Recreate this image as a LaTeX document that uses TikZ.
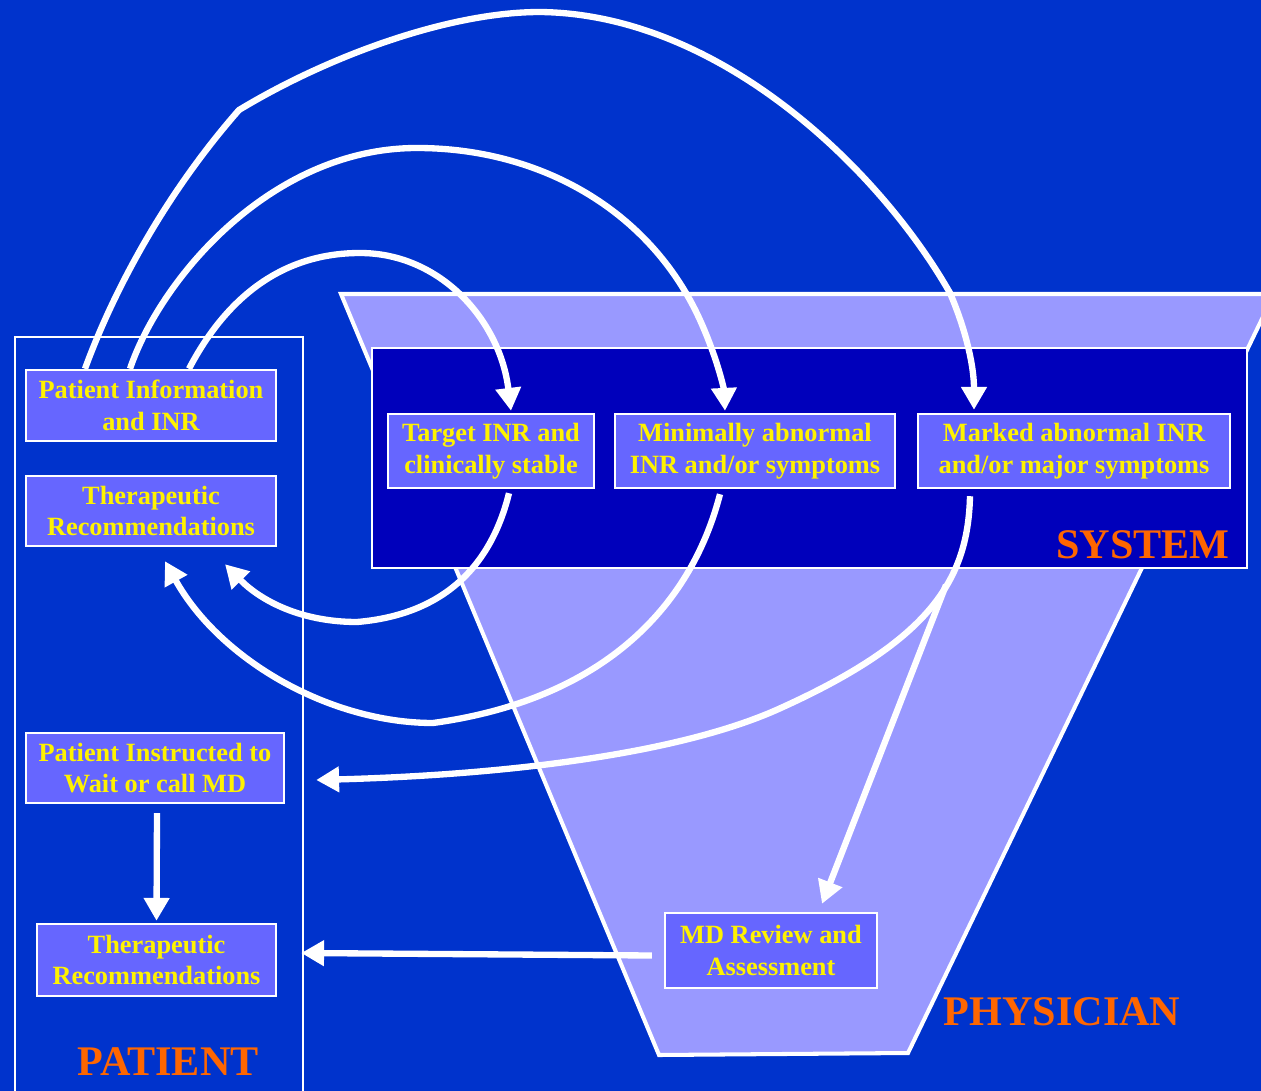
\documentclass[tikz,border=0pt]{standalone}
\usepackage{fontspec}
\setmainfont{Liberation Serif}
\usetikzlibrary{arrows.meta}
\definecolor{slideBlue}{RGB}{0,51,204}
\definecolor{funnelLilac}{RGB}{153,153,255}
\definecolor{systemBlue}{RGB}{0,0,187}
\definecolor{boxLilac}{RGB}{102,102,255}
\definecolor{roleOrange}{RGB}{255,102,0}
\tikzset{flowtip/.tip={Triangle[length=13pt,width=14pt]}}

\begin{document}
\begin{tikzpicture}[>=flowtip, x=0.02cm, y=-0.02cm,
		stepbox/.style={draw=white, line width=1.4pt, fill=boxLilac, text=yellow,
			inner sep=0pt, align=center, font=\fontsize{15}{18}\selectfont\bfseries},
		flow/.style={->, white, line width=3.6pt},
		role/.style={text=roleOrange, inner sep=0pt, font=\fontsize{24}{28}\selectfont\bfseries}]
				\useasboundingbox (0,0) rectangle (1261,1091);
				\fill[slideBlue] (0,0) rectangle (1261,1091);

				\begin{scope}
					\clip (0,0) rectangle (1261,1091);
					\filldraw[fill=funnelLilac, draw=white, line width=2.3pt]
						(341,294) -- (1274,294) -- (908,1053) -- (659,1055) -- cycle;
					\draw[fill=systemBlue, draw=white, line width=1.5pt] (372,348) rectangle (1247,568);
					\draw[white, line width=1.2pt] (15,337) rectangle (303,1100);
				\end{scope}

				\node[stepbox, minimum width=5cm, minimum height=1.42cm] (info) at (151,405.5)
					{Patient Information\\and INR};
				\node[stepbox, minimum width=5cm, minimum height=1.4cm] (therTop) at (151,511)
					{Therapeutic\\Recommendations};
				\node[stepbox, minimum width=4.12cm, minimum height=1.48cm] (target) at (491,451)
					{Target INR and\\clinically stable};
				\node[stepbox, minimum width=5.6cm, minimum height=1.48cm] (minimal) at (755,451)
					{Minimally abnormal\\INR and/or symptoms};
				\node[stepbox, minimum width=6.24cm, minimum height=1.48cm] (marked) at (1074,451)
					{Marked abnormal INR\\and/or major symptoms};
				\node[stepbox, minimum width=5.16cm, minimum height=1.4cm] (waitMD) at (155,768)
					{Patient Instructed to\\Wait or call MD};
				\node[stepbox, minimum width=4.78cm, minimum height=1.44cm] (therBottom) at (156.5,960)
					{Therapeutic\\Recommendations};
				\node[stepbox, minimum width=4.24cm, minimum height=1.5cm] (review) at (771,950.5)
					{MD Review and\\Assessment};

				\node[role] (systemLabel) at (1143,545) {SYSTEM};
				\node[role] (patientLabel) at (168,1062) {PATIENT};
				\node[role] (physicianLabel) at (1062,1012) {PHYSICIAN};

				% patient data out to the system
				\draw[flow] ([shift={(-66,0)}]info.north)
						.. controls (110,300) and (160,200) .. (239,110)
						.. controls (330,55) and (450,12) .. (540,12)
						.. controls (720,14) and (880,170) .. (950,293)
						.. controls (968,335) and (974,370) .. ([shift={(-100,-3)}]marked.north);
				\draw[flow] ([shift={(-21,0)}]info.north)
						.. controls (160,280) and (270,148) .. (417,148)
						.. controls (540,148) and (650,210) .. (700,320)
						.. controls (718,360) and (724,390) .. ([shift={(-30,-2)}]minimal.north);
				\draw[flow] ([shift={(38,0)}]info.north)
						.. controls (225,300) and (280,253) .. (360,253)
						.. controls (440,253) and (500,320) .. ([shift={(20,-2)}]target.north);

				% answers back to the patient
				\draw[flow] ([shift={(18,4)}]target.south)
						.. controls (490,570) and (440,615) .. (357,622)
						.. controls (300,622) and (260,600) .. ([shift={(74,17)}]therTop.south);
				\draw[flow] ([shift={(-35,5)}]minimal.south)
						.. controls (690,610) and (600,700) .. (433,723)
						.. controls (330,723) and (220,660) .. ([shift={(14,14)}]therTop.south);
				\coordinate (fork) at (946,585);
				\draw[flow] ([shift={(-104,7)}]marked.south)
						.. controls (968,580) and (930,640) .. (783,707)
						.. controls (680,755) and (500,775) .. ([shift={(31,12)}]waitMD.east);
				\draw[flow] (fork) -- ([shift={(51,-8)}]review.north);

				\draw[flow] ([shift={(2,9)}]waitMD.south) -- ([shift={(0,-2)}]therBottom.north);
				\draw[flow] ([shift={(-12,5)}]review.west) -- ([shift={(24,-7)}]therBottom.east);
			\end{tikzpicture}
\end{document}
